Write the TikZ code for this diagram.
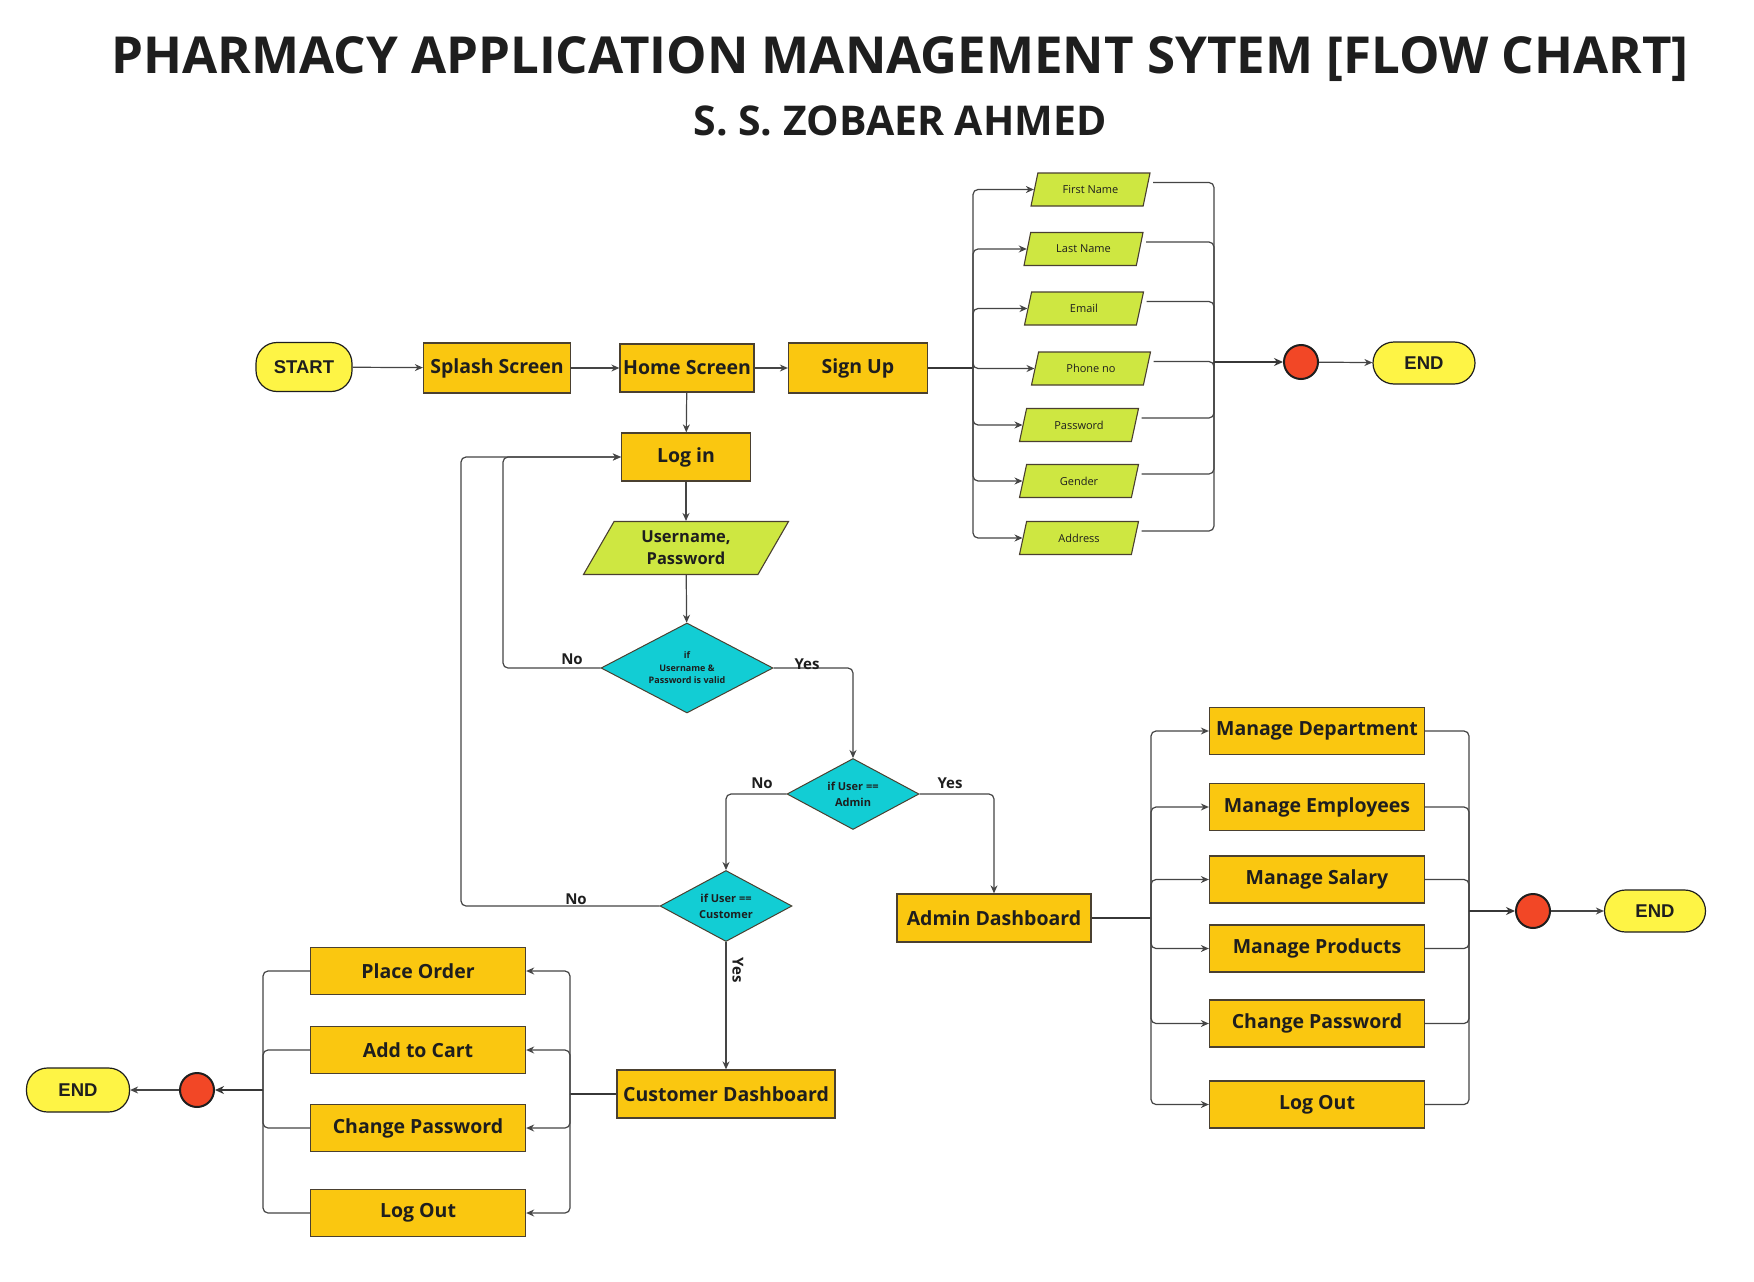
\documentclass[tikz,border=0pt]{standalone}
\usepackage{fontspec}
\setmainfont{Open Sans}
\newfontfamily\arialf{Liberation Sans}
\IfFontExistsTF{Open Sans SemiBold}{\newfontfamily\semib{Open Sans SemiBold}}{\newcommand\semib{\bfseries}}
\usetikzlibrary{shapes.geometric,arrows.meta,calc}
\definecolor{boxor}{HTML}{FAC710}
\definecolor{boxline}{HTML}{4A4030}
\definecolor{termfill}{HTML}{FEF445}
\definecolor{limef}{HTML}{CEE741}
\definecolor{cyanf}{HTML}{12CDD4}
\definecolor{redf}{HTML}{F24726}
\definecolor{linec}{HTML}{454545}
\definecolor{txt}{HTML}{1E1E1E}
\begin{document}
\begin{tikzpicture}[x=1pt,y=-1pt,
  box/.style={draw=boxline, line width=1.3pt, fill=boxor, inner sep=0pt, text=txt,
    font=\semib\fontsize{19.5}{23}\selectfont, minimum height=48},
  term/.style={draw=txt, line width=1.2pt, fill=termfill, rounded corners=21pt, inner sep=0pt,
    text=txt, font=\arialf\bfseries\fontsize{18.5}{22}\selectfont},
  para/.style={trapezium, trapezium left angle=50, trapezium right angle=130,
    trapezium stretches body, draw=boxline, line width=1.1pt, fill=limef, inner sep=0pt,
    minimum width=119, minimum height=33, text=txt, font=\fontsize{11}{13}\selectfont},
  dia/.style={diamond, draw=boxline, line width=1pt, fill=cyanf, inner sep=0pt, text=txt,
    align=center, shape aspect=1.86},
  dot/.style={circle, draw=txt, line width=2pt, fill=redf, minimum size=34, inner sep=0pt},
  conn/.style={draw=linec, line width=1.2pt, rounded corners=5pt},
  trunk/.style={draw=linec!80!black, line width=2.2pt, rounded corners=5pt},
  arr/.style={conn, -{Stealth[length=8pt,width=7pt]}},
  arrt/.style={trunk, -{Stealth[length=9pt,width=8pt]}},
  lab/.style={text=txt, font=\semib\fontsize{15}{18}\selectfont, inner sep=0pt}
]
\useasboundingbox[fill=white] (0,0) rectangle (1754,1282);

% titles
\node[anchor=base, text=txt, font=\bfseries\fontsize{51}{60}\selectfont, inner sep=0pt] (title) at (900,73) {PHARMACY APPLICATION MANAGEMENT SYTEM [FLOW CHART]};
\node[anchor=base, text=txt, font=\bfseries\fontsize{41}{48}\selectfont, inner sep=0pt] (subtitle) at (900,135) {S. S. ZOBAER AHMED};

% main row
\node[term, minimum width=96, minimum height=49] (start) at (304,367) {START};
\node[box, minimum width=147, minimum height=50] (splash) at (497,368) {Splash Screen};
\node[box, minimum width=134] (home) at (687,368) {Home Screen};
\node[box, minimum width=139, minimum height=50] (signup) at (858,368) {Sign Up};
\node[box, minimum width=129] (login) at (686,457) {Log in};
\node[para, trapezium left angle=48, trapezium right angle=132, minimum width=205, minimum height=53,
  align=center, font=\semib\fontsize{16.5}{22}\selectfont] (up) at (686,548) {Username,\\Password};
\node[dia, minimum width=172, minimum height=90, shape aspect=1.9,
  font=\bfseries\fontsize{9}{12.5}\selectfont] (d1) at (687,668) {if\\Username \&\\Password is valid};
\node[dia, minimum width=132, minimum height=71, font=\bfseries\fontsize{11}{16}\selectfont] (d2) at (853,794) {if User ==\\Admin};
\node[dia, minimum width=132, minimum height=71, font=\bfseries\fontsize{11}{16}\selectfont] (d3) at (726,906) {if User ==\\Customer};
\node[box, minimum width=194] (admin) at (994,918) {Admin Dashboard};
\node[box, minimum width=218] (cust) at (726,1094) {Customer Dashboard};

% sign up fields
\node[para] (p1) at (1090.5,189.5) {First Name};
\node[para] (p2) at (1083.5,249) {Last Name};
\node[para] (p3) at (1084,308.5) {Email};
\node[para] (p4) at (1091,368.5) {Phone no};
\node[para] (p5) at (1079,425) {Password};
\node[para] (p6) at (1079,481) {Gender};
\node[para] (p7) at (1079,538) {Address};
\node[dot] (c1) at (1301,362) {};
\node[term, minimum width=102, minimum height=42] (end1) at (1424,363) {END};

% customer items
\node[box, minimum width=215, minimum height=47] (po) at (418,971) {Place Order};
\node[box, minimum width=215, minimum height=47] (atc) at (418,1050) {Add to Cart};
\node[box, minimum width=215, minimum height=47] (ccp) at (418,1128) {Change Password};
\node[box, minimum width=215, minimum height=47] (clo) at (418,1213) {Log Out};
\node[dot] (c3) at (197,1090) {};
\node[term, minimum width=103, minimum height=44] (end3) at (78,1090) {END};

% admin items
\node[box, minimum width=215, minimum height=47] (md) at (1317,731) {Manage Department};
\node[box, minimum width=215, minimum height=47] (me) at (1317,807) {Manage Employees};
\node[box, minimum width=215, minimum height=47] (ms) at (1317,879.5) {Manage Salary};
\node[box, minimum width=215, minimum height=47] (mp) at (1317,948.5) {Manage Products};
\node[box, minimum width=215, minimum height=47] (acp) at (1317,1023.5) {Change Password};
\node[box, minimum width=215, minimum height=47] (alo) at (1317,1104.5) {Log Out};
\node[dot] (c2) at (1533,911) {};
\node[term, minimum width=101, minimum height=42] (end2) at (1655,911) {END};

% junction coordinates
\coordinate (lbus) at (973,368);
\coordinate (rbus) at (1214,362);
\coordinate (cj) at (570,1094);
\coordinate (lj) at (263,1090);
\coordinate (aj) at (1151,918);
\coordinate (aj2) at (1469,911);

% main flow
\draw[arr] (start) -- (splash);
\draw[arr] (splash) -- (home);
\draw[arr] (home) -- (signup);
\draw[arr] (home) -- (login);
\draw[arr] (login) -- (up);
\draw[arr] (up) -- (d1);
\draw[arr] (d1.west) -| (503,457) -- (login.west);
\draw[arr] (d1.east) -| (d2.north);
\draw[arr] (d2.west) -| (d3.north);
\draw[arr] (d2.east) -| (admin.north);
\draw[arr] (d3.west) -| (461,457) -- (login.west);
\draw[arr] (d3.south) -- (cust.north);

% labels
\node[lab] (l1) at (572,659) {No};
\node[lab] (l2) at (807,664) {Yes};
\node[lab] (l3) at (762,783) {No};
\node[lab] (l4) at (950,783) {Yes};
\node[lab] (l5) at (576,899) {No};
\node[lab, rotate=-90] (l6) at (738,970) {Yes};

% sign up fan
\draw[trunk] (signup.east) -- (lbus);
\foreach \p in {p1,p2,p3,p4,p5,p6,p7}{
  \draw[arr] (lbus) |- (\p.west);
  \draw[conn] ($(\p.east)+(6,-7)$) -| (rbus);
}
\draw[arrt] (rbus) -- (c1);
\draw[arr] (c1) -- (end1);

% customer fan
\draw[trunk] (cust.west) -- (cj);
\foreach \b in {po,atc,ccp,clo}{
  \draw[arr] (cj) |- (\b.east);
  \draw[conn] (\b.west) -| (lj);
}
\draw[arrt] (lj) -- (c3);
\draw[arr] (c3) -- (end3);

% admin fan
\draw[trunk] (admin.east) -- (aj);
\foreach \b in {md,me,ms,mp,acp,alo}{
  \draw[arr] (aj) |- (\b.west);
  \draw[conn] (\b.east) -| (aj2);
}
\draw[arrt] (aj2) -- (c2);
\draw[arr] (c2) -- (end2);
\end{tikzpicture}
\end{document}
